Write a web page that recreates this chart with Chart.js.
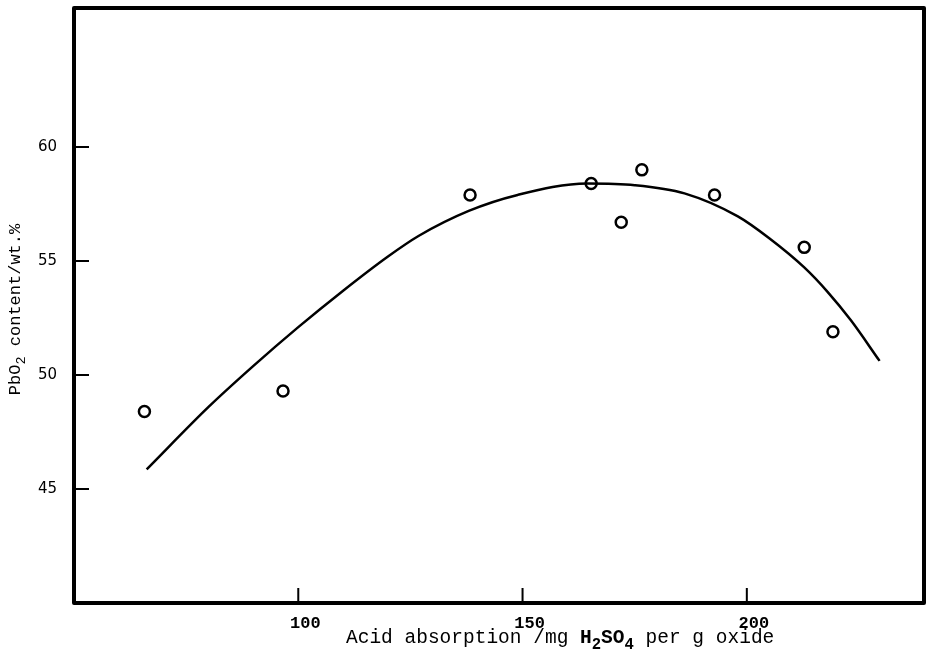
<!DOCTYPE html>
<html>
<head>
<meta charset="utf-8">
<script src="https://cdn.jsdelivr.net/npm/chart.js@4"></script>
<style>
  html, body { margin: 0; padding: 0; background: #fff; }
  #wrap { width: 932px; height: 657px; position: relative; }
</style>
</head>
<body>
<div id="wrap"><canvas id="chart" width="932" height="657"></canvas></div>
<script>
// Tick values on each axis
const xTicks = [100, 150, 200];
const yTicks = [45, 50, 55, 60];

// Measured samples: acid absorption (mg H2SO4 per g oxide) vs PbO2 content (wt.%)
const acidAbsorption = [65.7, 96.6, 138.3, 165.3, 172.0, 176.6, 192.8, 212.8, 219.2];
const pbo2Content    = [48.4, 49.3, 57.9, 58.4, 56.7, 59.0, 57.9, 55.6, 51.9];

// Hand-drawn trend curve through the data
const curveX = [66.2, 80, 90, 100, 110, 120, 126.8, 138, 148.9, 164.4, 175, 186.1, 198, 205, 212.8, 218, 223.2, 229.6];
const curveY = [45.86, 48.6, 50.4, 52.1, 53.7, 55.2, 56.1, 57.2, 57.9, 58.4, 58.33, 57.97, 56.96, 56.0, 54.72, 53.65, 52.4, 50.62];

const MONO = '"Liberation Mono", "DejaVu Sans Mono", monospace';

// Frame around the plot plus inward-pointing tick marks
const framePlugin = {
  id: 'frame',
  afterDatasetsDraw(chart) {
    const { ctx, chartArea: a, scales } = chart;
    ctx.save();
    ctx.strokeStyle = '#000';
    ctx.lineJoin = 'round';
    ctx.lineWidth = 4;
    ctx.strokeRect(a.left, a.top, a.right - a.left, a.bottom - a.top);
    ctx.lineWidth = 2;
    ctx.beginPath();
    xTicks.forEach(v => {
      const px = scales.x.getPixelForValue(v);
      ctx.moveTo(px, a.bottom);
      ctx.lineTo(px, a.bottom - 15);
    });
    yTicks.forEach(v => {
      const py = scales.y.getPixelForValue(v);
      ctx.moveTo(a.left, py);
      ctx.lineTo(a.left + 15, py);
    });
    ctx.stroke();
    ctx.restore();
  }
};

// Axis titles with true subscripts
function drawSubText(ctx, parts, x, y, size) {
  let cx = x;
  parts.forEach(p => {
    const s = p.sub ? size * 0.8 : size;
    ctx.font = (p.bold ? 'bold ' : '') + s + 'px ' + MONO;
    ctx.fillText(p.t, cx, y + (p.sub ? size * 0.3 : 0));
    cx += ctx.measureText(p.t).width;
  });
  return cx - x;
}
function measureSubText(ctx, parts, size) {
  let w = 0;
  parts.forEach(p => {
    const s = p.sub ? size * 0.8 : size;
    ctx.font = (p.bold ? 'bold ' : '') + s + 'px ' + MONO;
    w += ctx.measureText(p.t).width;
  });
  return w;
}

const titlePlugin = {
  id: 'axisTitles',
  afterDraw(chart) {
    const { ctx, chartArea: a } = chart;
    ctx.save();
    ctx.fillStyle = '#000';
    ctx.textBaseline = 'alphabetic';
    ctx.textAlign = 'left';

    const xParts = [
      { t: 'Acid absorption /mg ' },
      { t: 'H', bold: true },
      { t: '2', sub: true, bold: true },
      { t: 'SO', bold: true },
      { t: '4', sub: true, bold: true },
      { t: ' per g oxide' }
    ];
    drawSubText(ctx, xParts, 346, 643, 19.5);

    const yParts = [
      { t: 'PbO' },
      { t: '2', sub: true },
      { t: ' content/wt.%' }
    ];
    const w = measureSubText(ctx, yParts, 17);
    ctx.translate(20, (a.top + a.bottom) / 2 + 4);
    ctx.rotate(-Math.PI / 2);
    drawSubText(ctx, yParts, -w / 2, 0, 17);
    ctx.restore();
  }
};

const ctx = document.getElementById('chart').getContext('2d');
const chart = new Chart(ctx, {
  type: 'scatter',
  data: {
    datasets: [
      {
        label: 'trend',
        type: 'line',
        data: curveX.map((x, i) => ({ x, y: curveY[i] })),
        borderColor: '#000',
        borderWidth: 2.5,
        pointRadius: 0,
        cubicInterpolationMode: 'monotone',
        fill: false,
        order: 2
      },
      {
        label: 'PbO2 content',
        data: acidAbsorption.map((x, i) => ({ x, y: pbo2Content[i] })),
        borderColor: '#000',
        backgroundColor: 'rgba(0,0,0,0)',
        borderWidth: 2.5,
        pointRadius: 5.5,
        pointHoverRadius: 5.5,
        order: 1
      }
    ]
  },
  options: {
    responsive: false,
    animation: false,
    layout: { padding: { top: 5, right: 6, left: 0, bottom: 0 } },
    plugins: {
      legend: { display: false },
      tooltip: { enabled: false }
    },
    scales: {
      x: {
        type: 'linear',
        min: 50,
        max: 239.5,
        grid: { display: false, drawTicks: false },
        border: { display: false },
        afterFit(scale) { scale.height = 54; scale.paddingLeft = 0; scale.paddingRight = 0; },
        afterBuildTicks(scale) { scale.ticks = xTicks.map(v => ({ value: v })); },
        ticks: {
          padding: 11,
          labelOffset: 7,
          color: '#000',
          font: { family: MONO, size: 17, weight: 'bold' },
          callback: v => String(v)
        }
      },
      y: {
        type: 'linear',
        min: 40,
        max: 66.1,
        grid: { display: false, drawTicks: false },
        border: { display: false },
        afterFit(scale) { scale.width = 74; scale.paddingTop = 0; scale.paddingBottom = 0; },
        afterBuildTicks(scale) { scale.ticks = yTicks.map(v => ({ value: v })); },
        ticks: {
          padding: 17,
          color: '#000',
          font: { family: '"DejaVu Sans", sans-serif', size: 15 },
          callback: v => String(v)
        }
      }
    }
  },
  plugins: [framePlugin, titlePlugin]
});
</script>
</body>
</html>
